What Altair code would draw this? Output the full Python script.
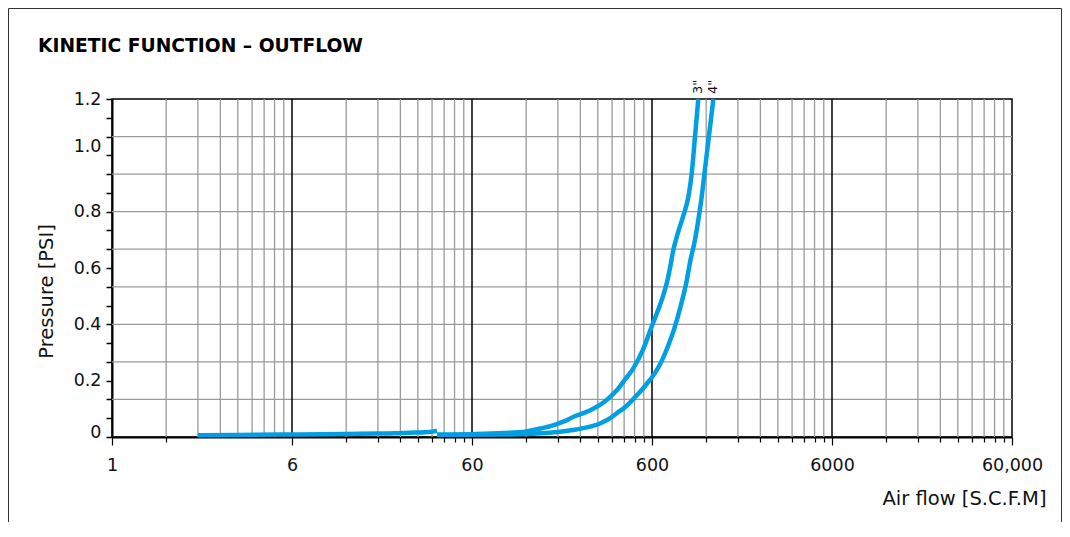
import altair as alt
import pandas as pd

# ---------------- text ----------------
title_text = "KINETIC FUNCTION – OUTFLOW"
x_title = "Air flow [S.C.F.M]"
y_title = "Pressure [PSI]"

# ---------------- x axis (log grid, labels as printed on the chart) ----------------
x_label_positions = [1, 10, 100, 1000, 10000, 100000]
x_label_texts = ["1", "6", "60", "600", "6000", "60,000"]
x_major_grid = [10, 100, 1000, 10000]
x_minor_grid = [2, 3, 4, 5, 6, 7, 8, 9,
                20, 30, 40, 50, 60, 70, 80, 90,
                200, 300, 400, 500, 600, 700, 800, 900,
                2000, 3000, 4000, 5000, 6000, 7000, 8000, 9000,
                20000, 30000, 40000, 50000, 60000, 70000, 80000, 90000]
x_tick_values = [1, 2,
                 10, 20, 30, 40, 50, 60, 70, 80, 90,
                 100, 200, 300, 400, 500, 600, 700, 800, 900,
                 1000, 2000, 3000, 4000, 5000, 6000, 7000, 8000, 9000,
                 10000, 20000, 30000, 40000, 50000, 60000, 70000, 80000, 90000,
                 100000]

# ---------------- y axis ----------------
y_label_values = [0, 0.2, 0.4, 0.6, 0.8, 1.0, 1.2]
y_label_texts = ["0", "0.2", "0.4", "0.6", "0.8", "1.0", "1.2"]
y_grid_values = [0.1333, 0.2667, 0.4, 0.5333, 0.6667, 0.8, 0.9333, 1.0667]
y_tick_values = [0, 0.0667, 0.1333, 0.2, 0.2667, 0.3333, 0.4, 0.4667, 0.5333,
                 0.6, 0.6667, 0.7333, 0.8, 0.8667, 0.9333, 1.0, 1.0667, 1.1333, 1.2]

# ---------------- curves ----------------
small_flow = [3, 5, 10, 20, 30, 45, 60, 64]
small_pressure = [0.006, 0.007, 0.009, 0.011, 0.012, 0.015, 0.019, 0.021]

c3_flow = [64, 100, 150, 200, 239, 282, 308, 337, 364, 398, 460, 514, 580, 639,
           710, 784, 891, 1000, 1080, 1151, 1212, 1259, 1318, 1398, 1492, 1595,
           1665, 1733, 1808]
c3_pressure = [0.008, 0.010, 0.014, 0.020, 0.030, 0.041, 0.050, 0.060, 0.071, 0.080,
               0.097, 0.114, 0.140, 0.167, 0.205, 0.242, 0.310, 0.395, 0.450, 0.500,
               0.550, 0.600, 0.668, 0.728, 0.785, 0.855, 0.940, 1.066, 1.2]

c4_flow = [64, 150, 239, 300, 364, 435, 514, 580, 639, 700, 754, 820, 891, 938, 1000,
           1080, 1151, 1240, 1330, 1450, 1565, 1626, 1733, 1808, 1888, 1968, 2055, 2193]
c4_pressure = [0.008, 0.009, 0.013, 0.018, 0.025, 0.034, 0.048, 0.065, 0.085, 0.103,
               0.122, 0.147, 0.172, 0.190, 0.212, 0.245, 0.280, 0.330, 0.385, 0.470,
               0.560, 0.620, 0.700, 0.770, 0.853, 0.950, 1.050, 1.2]

curve_labels = ['3"', '4"']
curve_label_flow = [1808, 2193]
curve_label_pressure = [1.2, 1.2]

LINE_BLUE = "#009fe3"
FONT = "DejaVu Sans"

rows = []
for name, xs, ys in [("small", small_flow, small_pressure),
                     ('3"', c3_flow, c3_pressure),
                     ('4"', c4_flow, c4_pressure)]:
    for i, (a, b) in enumerate(zip(xs, ys)):
        rows.append({"series": name, "flow": a, "pressure": b, "idx": i})
curves_df = pd.DataFrame(rows)

xscale = alt.Scale(type="log", domain=[1, 100000], nice=False)
yscale = alt.Scale(domain=[0, 1.2], nice=False, zero=True)

# label expressions built from the label lists
x_expr = "''"
for v, t in zip(reversed(x_label_positions), reversed(x_label_texts)):
    x_expr = f"datum.value == {v} ? '{t}' : ({x_expr})"
y_expr = "''"
for v, t in zip(reversed(y_label_values), reversed(y_label_texts)):
    y_expr = f"abs(datum.value - {v}) < 0.001 ? '{t}' : ({y_expr})"

major_test = "abs(log(datum.value) / LN10 - round(log(datum.value) / LN10)) < 0.000001"

x_axis = alt.Axis(
    values=x_tick_values, labelExpr=x_expr,
    tickSize={"condition": {"test": major_test, "value": 8}, "value": 5},
    labelPadding=11,
    title=x_title, titleX=934, titleY=61, titleAlign="right",
    titleBaseline="middle", titleAngle=0,
)
y_axis = alt.Axis(
    values=y_tick_values, labelExpr=y_expr,
    tickSize=6, tickWidth=1.5, labelPadding=5,
    labelOffset={"condition": [{"test": "abs(datum.value - 1.0) < 0.001", "value": -9},
                               {"test": "datum.value < 0.001", "value": -5}],
                 "value": 0},
    title=y_title, titleX=-66, titleY=192, titleAngle=270,
    titleAlign="center", titleBaseline="middle",
)

minor_x = alt.Chart(pd.DataFrame({"v": x_minor_grid})).mark_rule(
    color="#9a9a9a", strokeWidth=1.3).encode(x=alt.X("v:Q", scale=xscale, axis=x_axis))
grid_y = alt.Chart(pd.DataFrame({"v": y_grid_values})).mark_rule(
    color="#9a9a9a", strokeWidth=1.3).encode(y=alt.Y("v:Q", scale=yscale, axis=y_axis))
major_x = alt.Chart(pd.DataFrame({"v": x_major_grid})).mark_rule(
    color="black", strokeWidth=1.5).encode(x=alt.X("v:Q", scale=xscale, axis=x_axis))

curves = alt.Chart(curves_df).mark_line(
    color=LINE_BLUE, strokeWidth=4.5, interpolate="monotone", strokeCap="butt"
).encode(
    x=alt.X("flow:Q", scale=xscale, axis=x_axis),
    y=alt.Y("pressure:Q", scale=yscale, axis=y_axis),
    detail="series:N",
    order="idx:Q",
)

labels = alt.Chart(pd.DataFrame({"label": curve_labels, "flow": curve_label_flow,
                                 "pressure": curve_label_pressure})).mark_text(
    angle=270, align="left", baseline="middle", dx=5, font=FONT, fontSize=13, color="#111"
).encode(
    x=alt.X("flow:Q", scale=xscale, axis=x_axis),
    y=alt.Y("pressure:Q", scale=yscale, axis=y_axis),
    text="label:N",
)

title = alt.Chart(pd.DataFrame({"t": [title_text]})).mark_text(
    align="left", baseline="alphabetic", font=FONT, fontSize=18.7, fontWeight="bold", color="black"
).encode(x=alt.value(-74), y=alt.value(-47), text="t:N")

one = pd.DataFrame({"a": [0]})
frame_left = alt.Chart(one).mark_rule(color="#333", strokeWidth=1).encode(
    x=alt.value(-103.5), y=alt.value(-90.5), y2=alt.value(423))
frame_top = alt.Chart(one).mark_rule(color="#333", strokeWidth=1).encode(
    x=alt.value(-103.5), x2=alt.value(949.5), y=alt.value(-90.5))
frame_right = alt.Chart(one).mark_rule(color="#333", strokeWidth=1).encode(
    x=alt.value(949.5), y=alt.value(-90.5), y2=alt.value(423))

chart = alt.layer(
    minor_x, grid_y, major_x, curves, labels, title, frame_left, frame_top, frame_right
).properties(
    width=900, height=338,
    padding={"left": 104, "top": 91, "right": 50, "bottom": 85},
    autosize=alt.AutoSizeParams(type="none"),
    background="white",
).configure_view(
    stroke="black", strokeWidth=1.5
).configure_axis(
    grid=False, tickColor="black", tickWidth=1.2,
    domainColor="black", domainWidth=2,
    labelFont=FONT, labelFontSize=17.5, labelColor="#111",
    labelFlush=False, labelOverlap=False,
    titleFont=FONT, titleFontSize=19.5, titleFontWeight="normal", titleColor="#111",
)

chart.save("out.html", embed_options={"renderer": "svg", "actions": False})
